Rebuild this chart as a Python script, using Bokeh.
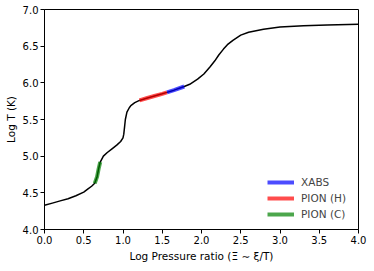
from bokeh.plotting import figure
from bokeh.models import Range1d, FixedTicker, NumeralTickFormatter, Legend, LegendItem
from bokeh.embed import file_html
from bokeh.resources import INLINE

# Full curve: Log pressure ratio vs Log T
curve_x = [0.0, 0.1, 0.2, 0.3, 0.4, 0.5, 0.55, 0.6, 0.64, 0.67, 0.69, 0.71, 0.75, 0.8,
           0.86, 0.92, 0.97, 1.0, 1.01, 1.02, 1.03, 1.05, 1.08, 1.1, 1.15, 1.21, 1.3,
           1.4, 1.5, 1.56, 1.65, 1.78, 1.85, 1.95, 2.03, 2.11, 2.17, 2.22, 2.28, 2.33,
           2.4, 2.5, 2.6, 2.79, 3.0, 3.3, 3.6, 4.0]
curve_y = [4.33, 4.36, 4.39, 4.42, 4.46, 4.51, 4.55, 4.59, 4.63, 4.72, 4.83, 4.92, 5.0, 5.05,
           5.10, 5.15, 5.20, 5.25, 5.30, 5.40, 5.50, 5.60, 5.66, 5.69, 5.73, 5.76, 5.79,
           5.82, 5.85, 5.87, 5.90, 5.95, 5.98, 6.05, 6.12, 6.22, 6.30, 6.38, 6.46, 6.52,
           6.58, 6.65, 6.69, 6.73, 6.76, 6.78, 6.79, 6.80]

# Highlighted segments
xabs_x = [1.56, 1.65, 1.78]
xabs_y = [5.87, 5.90, 5.95]
pionh_x = [1.21, 1.3, 1.4, 1.5, 1.56]
pionh_y = [5.76, 5.79, 5.82, 5.85, 5.87]
pionc_x = [0.64, 0.67, 0.69, 0.71]
pionc_y = [4.63, 4.72, 4.83, 4.92]

series_labels = ["XABS", "PION (H)", "PION (C)"]
x_ticks = [0.0, 0.5, 1.0, 1.5, 2.0, 2.5, 3.0, 3.5, 4.0]
y_ticks = [4.0, 4.5, 5.0, 5.5, 6.0, 6.5, 7.0]

FONT = "DejaVu Sans"

p = figure(width=370, height=264, output_backend="svg", toolbar_location=None,
           x_range=Range1d(0, 4), y_range=Range1d(4, 7),
           min_border_left=44, min_border_right=12, min_border_top=9, min_border_bottom=34)
p.xgrid.visible = False
p.ygrid.visible = False
p.outline_line_color = "black"
p.outline_line_alpha = 1
p.outline_line_width = 1

p.line(curve_x, curve_y, line_color="black", line_width=1.5)
r_x = p.line(xabs_x, xabs_y, line_color="blue", line_alpha=0.7, line_width=4)
r_h = p.line(pionh_x, pionh_y, line_color="red", line_alpha=0.7, line_width=4)
r_c = p.line(pionc_x, pionc_y, line_color="green", line_alpha=0.7, line_width=4)

for ax, ticks in ((p.xaxis[0], x_ticks), (p.yaxis[0], y_ticks)):
    ax.ticker = FixedTicker(ticks=ticks)
    ax.formatter = NumeralTickFormatter(format="0.0")
    ax.minor_tick_line_color = None
    ax.major_tick_in = 0
    ax.major_tick_out = 4
    ax.major_tick_line_color = "black"
    ax.axis_line_color = "black"
    ax.major_label_text_font = FONT
    ax.major_label_text_font_size = "10px"
    ax.major_label_text_color = "black"
    ax.major_label_standoff = 2
    ax.axis_label_text_font = FONT
    ax.axis_label_text_font_size = "10.5px"
    ax.axis_label_text_font_style = "normal"
    ax.axis_label_text_color = "black"
    ax.axis_label_standoff = 3

p.xaxis[0].axis_label = "Log Pressure ratio (\u039e \u223c \u03be/T)"
p.yaxis[0].axis_label = "Log T (K)"

legend = Legend(items=[LegendItem(label=series_labels[0], renderers=[r_x]),
                       LegendItem(label=series_labels[1], renderers=[r_h]),
                       LegendItem(label=series_labels[2], renderers=[r_c])],
                location=(215, 0))
legend.border_line_alpha = 0
legend.background_fill_alpha = 0
legend.label_text_font = FONT
legend.label_text_font_size = "10.5px"
legend.glyph_width = 27
legend.glyph_height = 14
legend.label_height = 14
legend.spacing = 2
legend.margin = 0
legend.padding = 8
legend.label_standoff = 7
p.add_layout(legend, "center")

open("out.html", "w").write(file_html(p, INLINE))
